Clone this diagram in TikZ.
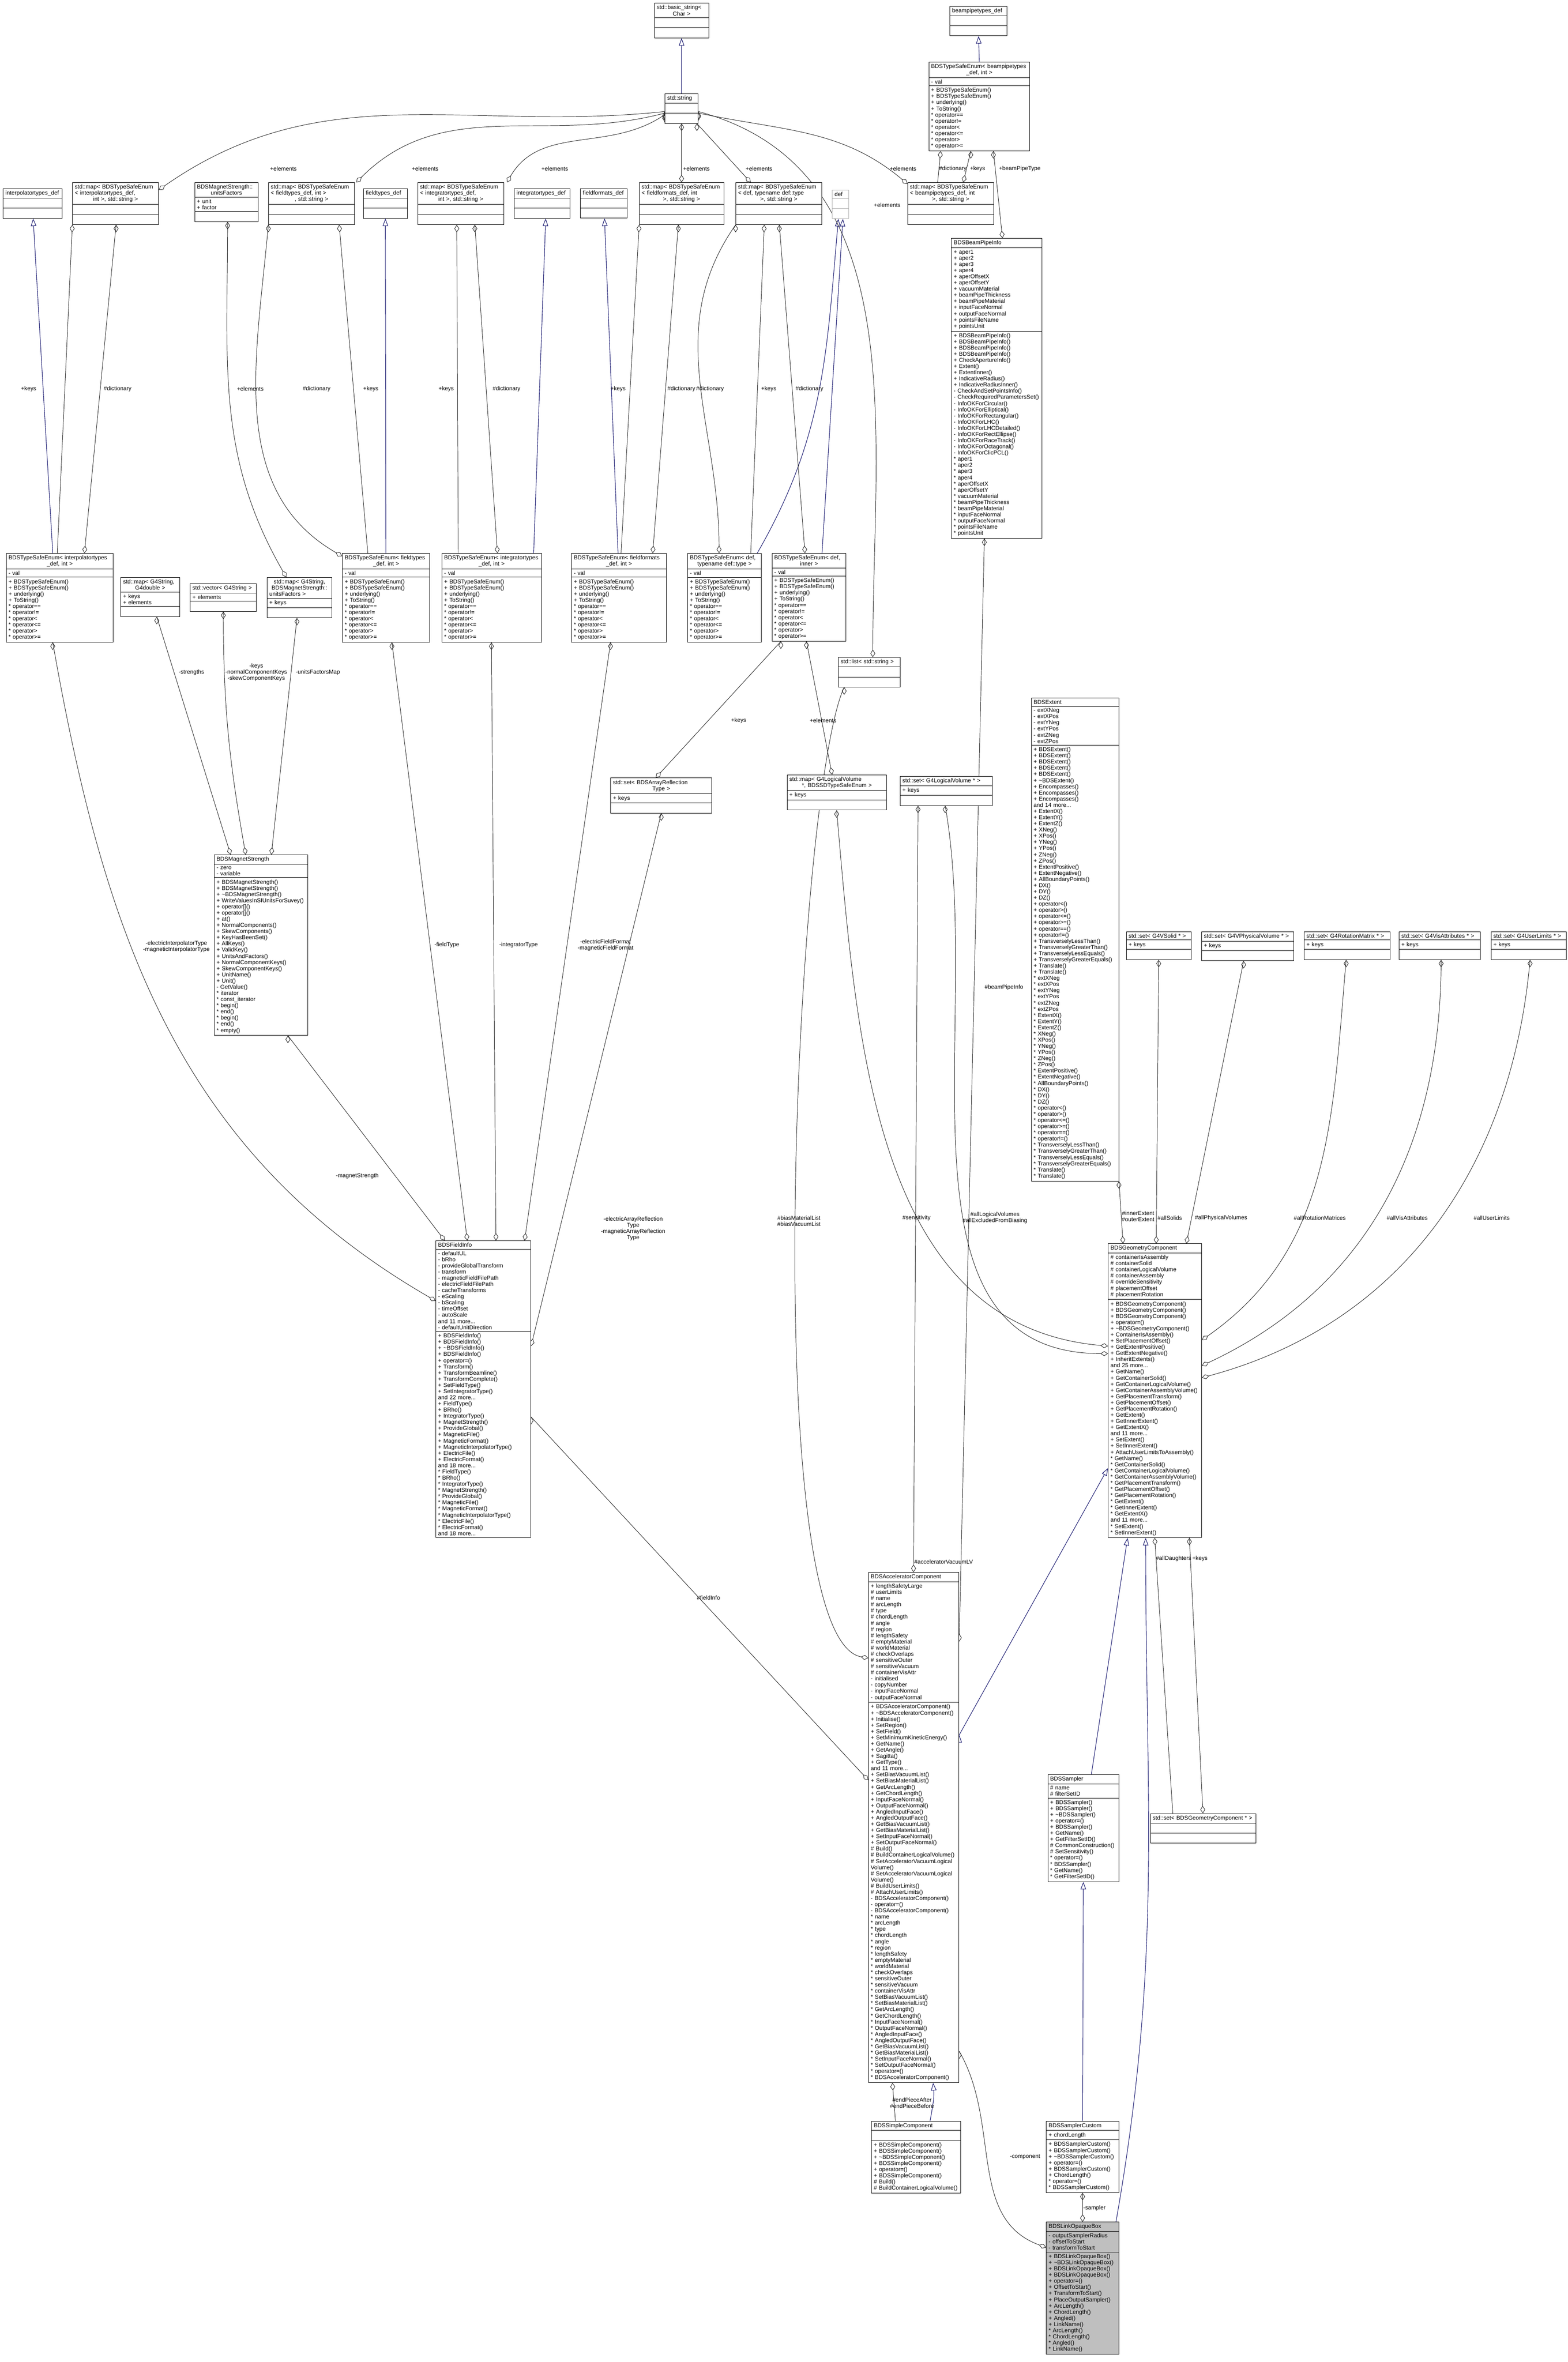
\documentclass[tikz,border=0pt]{standalone}
\usepackage{fontspec}
\newfontfamily\dxfont{Liberation Sans}
\usetikzlibrary{shapes.multipart,arrows.meta}
\definecolor{dxblue}{HTML}{191970}
\pgfdeclarelayer{background}
\pgfsetlayers{background,main}
\newcommand{\cfont}{\dxfont\fontsize{3.8}{4.1}\selectfont}
\newcommand{\emp}{\rule{0pt}{4pt}}
\newcommand{\cl}[1]{\hspace*{\fill}#1\hspace*{\fill}\null}
\newcommand{\tsemeth}{+ BDSTypeSafeEnum()\\+ BDSTypeSafeEnum()\\+ underlying()\\+ ToString()\\{}* operator==\\{}* operator!=\\{}* operator<\\{}* operator<=\\{}* operator>\\{}* operator>=}
\tikzstyle{cls}=[rectangle split, rectangle split parts=3, draw=black, line width=0.3pt,
fill=white, inner xsep=1.5pt, inner ysep=1.2pt, anchor=north west, font=\cfont, align=left]
\tikzstyle{agg}=[draw=black!85, line width=0.3pt, -{Diamond[open,length=5pt,width=3.2pt]}]
\tikzstyle{inh}=[draw=dxblue, line width=0.35pt, -{Triangle[open,length=5pt,width=3.6pt]}]
\tikzstyle{lab}=[font=\cfont, inner sep=0pt, align=center]

\begin{document}
\begin{tikzpicture}[x=1pt,y=-1pt]
            \useasboundingbox (0,0) rectangle (1040,1567);

            % STRING PART

            \node[cls,text width=33pt] (basicstr) at (434,2) {std::basic\_string<\\\cl{Char >}\nodepart{two}\emp\nodepart{three}\emp};
            \node[cls,text width=19pt] (stdstring) at (441,62) {\centering std::string\nodepart{two}\emp\nodepart{three}\emp};
            \node[cls,text width=38pt] (liststr) at (556,436) {\centering std::list< std::string >\nodepart{two}\emp\nodepart{three}\emp};

            % DEF PART

            \node[cls,text width=36pt] (interpdef) at (2,125) {\centering interpolatortypes\_def\nodepart{two}\emp\nodepart{three}\emp};
            \node[cls,text width=26pt] (ftdef) at (241,125) {\centering fieldtypes\_def\nodepart{two}\emp\nodepart{three}\emp};
            \node[cls,text width=34pt] (itdef) at (341,125) {\centering integratortypes\_def\nodepart{two}\emp\nodepart{three}\emp};
            \node[cls,text width=28pt] (ffdef) at (385,125) {\centering fieldformats\_def\nodepart{two}\emp\nodepart{three}\emp};
            \node[cls,text width=8pt,draw=black!30] (defbox) at (552,126) {\centering def\nodepart{two}\emp\nodepart{three}\emp};
            \node[cls,text width=35pt] (bptdef) at (630,4) {\centering beampipetypes\_def\nodepart{two}\emp\nodepart{three}\emp};

            % MAP PART

            \node[cls,text width=54pt] (mapinterp) at (48,121) {std::map< BDSTypeSafeEnum\\< interpolatortypes\_def,\\\cl{int >, std::string >}\nodepart{two}\emp\nodepart{three}\emp};
            \node[cls,text width=39pt] (unitsfac) at (129,121) {BDSMagnetStrength::\\\cl{unitsFactors}\nodepart{two}+ unit\\+ factor\nodepart{three}\emp};
            \node[cls,text width=54pt] (mapft) at (178,121) {std::map< BDSTypeSafeEnum\\< fieldtypes\_def, int >\\\cl{, std::string >}\nodepart{two}\emp\nodepart{three}\emp};
            \node[cls,text width=54pt] (mapit) at (277,121) {std::map< BDSTypeSafeEnum\\< integratortypes\_def,\\\cl{int >, std::string >}\nodepart{two}\emp\nodepart{three}\emp};
            \node[cls,text width=53pt] (mapff) at (424,121) {std::map< BDSTypeSafeEnum\\< fieldformats\_def, int\\\cl{>, std::string >}\nodepart{two}\emp\nodepart{three}\emp};
            \node[cls,text width=54pt] (mapdef) at (488,121) {std::map< BDSTypeSafeEnum\\< def, typename def::type\\\cl{>, std::string >}\nodepart{two}\emp\nodepart{three}\emp};
            \node[cls,text width=54pt] (mapbp) at (602,121) {std::map< BDSTypeSafeEnum\\< beampipetypes\_def, int\\\cl{>, std::string >}\nodepart{two}\emp\nodepart{three}\emp};

            % TYPESAFEENUM PART

            \node[cls,text width=64pt] (tsebp) at (616,41) {BDSTypeSafeEnum< beampipetypes\\\cl{\_def, int >}\nodepart{two}- val\nodepart{three}\tsemeth};
            \node[cls,text width=68pt] (tseinterp) at (4,367) {BDSTypeSafeEnum< interpolatortypes\\\cl{\_def, int >}\nodepart{two}- val\nodepart{three}\tsemeth};
            \node[cls,text width=55pt] (tseft) at (227,367) {BDSTypeSafeEnum< fieldtypes\\\cl{\_def, int >}\nodepart{two}- val\nodepart{three}\tsemeth};
            \node[cls,text width=63pt] (tseit) at (293,367) {BDSTypeSafeEnum< integratortypes\\\cl{\_def, int >}\nodepart{two}- val\nodepart{three}\tsemeth};
            \node[cls,text width=60pt] (tseff) at (379,367) {BDSTypeSafeEnum< fieldformats\\\cl{\_def, int >}\nodepart{two}- val\nodepart{three}\tsemeth};
            \node[cls,text width=46pt] (tsedeft) at (456,367) {BDSTypeSafeEnum< def,\\\cl{typename def::type >}\nodepart{two}- val\nodepart{three}\tsemeth};
            \node[cls,text width=46pt] (tsedefi) at (512,367) {BDSTypeSafeEnum< def,\\\cl{inner >}\nodepart{two}- val\nodepart{three}\tsemeth};

            % MAGNET STRENGTH PART

            \node[cls,text width=36pt] (mapgd) at (80,383) {std::map< G4String,\\\cl{G4double >}\nodepart{two}+ keys\\+ elements\nodepart{three}\emp};
            \node[cls,text width=41pt] (vecgs) at (126,387) {\centering std::vector< G4String >\nodepart{two}+ elements\nodepart{three}\emp};
            \node[cls,text width=40pt] (mapuf) at (177,383) {\centering std::map< G4String,\\BDSMagnetStrength::\\unitsFactors >\nodepart{two}+ keys\nodepart{three}\emp};
            \node[cls,text width=59pt] (ms) at (142,567) {\centering BDSMagnetStrength\nodepart{two}- zero\\- variable\nodepart{three}+ BDSMagnetStrength()\\+ BDSMagnetStrength()\\+ \textasciitilde BDSMagnetStrength()\\+ WriteValuesInSIUnitsForSuvey()\\+ operator[]()\\+ operator[]()\\+ at()\\+ NormalComponents()\\+ SkewComponents()\\+ KeyHasBeenSet()\\+ AllKeys()\\+ ValidKey()\\+ UnitsAndFactors()\\+ NormalComponentKeys()\\+ SkewComponentKeys()\\+ UnitName()\\+ Unit()\\- GetValue()\\{}* iterator\\{}* const\_iterator\\{}* begin()\\{}* end()\\{}* begin()\\{}* end()\\{}* empty()};

            % SET PART

            \node[cls,text width=64pt] (setarr) at (405,516) {std::set< BDSArrayReflection\\\cl{Type >}\nodepart{two}+ keys\nodepart{three}\emp};
            \node[cls,text width=63pt] (maplvsd) at (522,514) {std::map< G4LogicalVolume\\\cl{*, BDSSDTypeSafeEnum >}\nodepart{two}+ keys\nodepart{three}\emp};
            \node[cls,text width=58pt] (setlv) at (597,515) {\centering std::set< G4LogicalVolume * >\nodepart{two}+ keys\nodepart{three}\emp};
            \node[cls,text width=40pt] (setsolid) at (747,618) {\centering std::set< G4VSolid * >\nodepart{two}+ keys\nodepart{three}\emp};
            \node[cls,text width=58pt] (setpv) at (797,618) {\centering std::set< G4VPhysicalVolume * >\nodepart{two}+ keys\nodepart{three}\emp};
            \node[cls,text width=54pt] (setrot) at (865,618) {\centering std::set< G4RotationMatrix * >\nodepart{two}+ keys\nodepart{three}\emp};
            \node[cls,text width=51pt] (setvis) at (928,618) {\centering std::set< G4VisAttributes * >\nodepart{two}+ keys\nodepart{three}\emp};
            \node[cls,text width=47pt] (setul) at (989,618) {\centering std::set< G4UserLimits * >\nodepart{two}+ keys\nodepart{three}\emp};
            \node[cls,text width=67pt] (setgeom) at (763,1203) {\centering std::set< BDSGeometryComponent * >\nodepart{two}\emp\nodepart{three}\emp};

            % BEAMPIPE AND EXTENT PART

            \node[cls,text width=57pt] (bpinfo) at (631,158) {\centering BDSBeamPipeInfo\nodepart{two}+ aper1\\+ aper2\\+ aper3\\+ aper4\\+ aperOffsetX\\+ aperOffsetY\\+ vacuumMaterial\\+ beamPipeThickness\\+ beamPipeMaterial\\+ inputFaceNormal\\+ outputFaceNormal\\+ pointsFileName\\+ pointsUnit\nodepart{three}+ BDSBeamPipeInfo()\\+ BDSBeamPipeInfo()\\+ BDSBeamPipeInfo()\\+ BDSBeamPipeInfo()\\+ CheckApertureInfo()\\+ Extent()\\+ ExtentInner()\\+ IndicativeRadius()\\+ IndicativeRadiusInner()\\- CheckAndSetPointsInfo()\\- CheckRequiredParametersSet()\\- InfoOKForCircular()\\- InfoOKForElliptical()\\- InfoOKForRectangular()\\- InfoOKForLHC()\\- InfoOKForLHCDetailed()\\- InfoOKForRectEllipse()\\- InfoOKForRaceTrack()\\- InfoOKForOctagonal()\\- InfoOKForClicPCL()\\{}* aper1\\{}* aper2\\{}* aper3\\{}* aper4\\{}* aperOffsetX\\{}* aperOffsetY\\{}* vacuumMaterial\\{}* beamPipeThickness\\{}* beamPipeMaterial\\{}* inputFaceNormal\\{}* outputFaceNormal\\{}* pointsFileName\\{}* pointsUnit};
            \node[cls,text width=55pt] (extent) at (684,463) {\centering BDSExtent\nodepart{two}- extXNeg\\- extXPos\\- extYNeg\\- extYPos\\- extZNeg\\- extZPos\nodepart{three}+ BDSExtent()\\+ BDSExtent()\\+ BDSExtent()\\+ BDSExtent()\\+ BDSExtent()\\+ \textasciitilde BDSExtent()\\+ Encompasses()\\+ Encompasses()\\+ Encompasses()\\and 14 more...\\+ ExtentX()\\+ ExtentY()\\+ ExtentZ()\\+ XNeg()\\+ XPos()\\+ YNeg()\\+ YPos()\\+ ZNeg()\\+ ZPos()\\+ ExtentPositive()\\+ ExtentNegative()\\+ AllBoundaryPoints()\\+ DX()\\+ DY()\\+ DZ()\\+ operator<()\\+ operator>()\\+ operator<=()\\+ operator>=()\\+ operator==()\\+ operator!=()\\+ TransverselyLessThan()\\+ TransverselyGreaterThan()\\+ TransverselyLessEquals()\\+ TransverselyGreaterEquals()\\+ Translate()\\+ Translate()\\{}* extXNeg\\{}* extXPos\\{}* extYNeg\\{}* extYPos\\{}* extZNeg\\{}* extZPos\\{}* ExtentX()\\{}* ExtentY()\\{}* ExtentZ()\\{}* XNeg()\\{}* XPos()\\{}* YNeg()\\{}* YPos()\\{}* ZNeg()\\{}* ZPos()\\{}* ExtentPositive()\\{}* ExtentNegative()\\{}* AllBoundaryPoints()\\{}* DX()\\{}* DY()\\{}* DZ()\\{}* operator<()\\{}* operator>()\\{}* operator<=()\\{}* operator>=()\\{}* operator==()\\{}* operator!=()\\{}* TransverselyLessThan()\\{}* TransverselyGreaterThan()\\{}* TransverselyLessEquals()\\{}* TransverselyGreaterEquals()\\{}* Translate()\\{}* Translate()};

            % FIELD INFO PART

            \node[cls,text width=60pt] (fieldinfo) at (289,823) {\centering BDSFieldInfo\nodepart{two}- defaultUL\\- bRho\\- provideGlobalTransform\\- transform\\- magneticFieldFilePath\\- electricFieldFilePath\\- cacheTransforms\\- eScaling\\- bScaling\\- timeOffset\\- autoScale\\and 11 more...\\- defaultUnitDirection\nodepart{three}+ BDSFieldInfo()\\+ BDSFieldInfo()\\+ \textasciitilde BDSFieldInfo()\\+ BDSFieldInfo()\\+ operator=()\\+ Transform()\\+ TransformBeamline()\\+ TransformComplete()\\+ SetFieldType()\\+ SetIntegratorType()\\and 22 more...\\+ FieldType()\\+ BRho()\\+ IntegratorType()\\+ MagnetStrength()\\+ ProvideGlobal()\\+ MagneticFile()\\+ MagneticFormat()\\+ MagneticInterpolatorType()\\+ ElectricFile()\\+ ElectricFormat()\\and 18 more...\\{}* FieldType()\\{}* BRho()\\{}* IntegratorType()\\{}* MagnetStrength()\\{}* ProvideGlobal()\\{}* MagneticFile()\\{}* MagneticFormat()\\{}* MagneticInterpolatorType()\\{}* ElectricFile()\\{}* ElectricFormat()\\and 18 more...};

            % GEOMETRY PART

            \node[cls,text width=59pt] (geom) at (735,825) {\centering BDSGeometryComponent\nodepart{two}\# containerIsAssembly\\\# containerSolid\\\# containerLogicalVolume\\\# containerAssembly\\\# overrideSensitivity\\\# placementOffset\\\# placementRotation\nodepart{three}+ BDSGeometryComponent()\\+ BDSGeometryComponent()\\+ BDSGeometryComponent()\\+ operator=()\\+ \textasciitilde BDSGeometryComponent()\\+ ContainerIsAssembly()\\+ SetPlacementOffset()\\+ GetExtentPositive()\\+ GetExtentNegative()\\+ InheritExtents()\\and 25 more...\\+ GetName()\\+ GetContainerSolid()\\+ GetContainerLogicalVolume()\\+ GetContainerAssemblyVolume()\\+ GetPlacementTransform()\\+ GetPlacementOffset()\\+ GetPlacementRotation()\\+ GetExtent()\\+ GetInnerExtent()\\+ GetExtentX()\\and 11 more...\\+ SetExtent()\\+ SetInnerExtent()\\+ AttachUserLimitsToAssembly()\\{}* GetName()\\{}* GetContainerSolid()\\{}* GetContainerLogicalVolume()\\{}* GetContainerAssemblyVolume()\\{}* GetPlacementTransform()\\{}* GetPlacementOffset()\\{}* GetPlacementRotation()\\{}* GetExtent()\\{}* GetInnerExtent()\\{}* GetExtentX()\\and 11 more...\\{}* SetExtent()\\{}* SetInnerExtent()};

            % ACCELERATOR COMPONENT PART

            \node[cls,text width=57pt] (accel) at (576,1043) {\centering BDSAcceleratorComponent\nodepart{two}+ lengthSafetyLarge\\\# userLimits\\\# name\\\# arcLength\\\# type\\\# chordLength\\\# angle\\\# region\\\# lengthSafety\\\# emptyMaterial\\\# worldMaterial\\\# checkOverlaps\\\# sensitiveOuter\\\# sensitiveVacuum\\\# containerVisAttr\\- initialised\\- copyNumber\\- inputFaceNormal\\- outputFaceNormal\nodepart{three}+ BDSAcceleratorComponent()\\+ \textasciitilde BDSAcceleratorComponent()\\+ Initialise()\\+ SetRegion()\\+ SetField()\\+ SetMinimumKineticEnergy()\\+ GetName()\\+ GetAngle()\\+ Sagitta()\\+ GetType()\\and 11 more...\\+ SetBiasVacuumList()\\+ SetBiasMaterialList()\\+ GetArcLength()\\+ GetChordLength()\\+ InputFaceNormal()\\+ OutputFaceNormal()\\+ AngledInputFace()\\+ AngledOutputFace()\\+ GetBiasVacuumList()\\+ GetBiasMaterialList()\\+ SetInputFaceNormal()\\+ SetOutputFaceNormal()\\\# Build()\\\# BuildContainerLogicalVolume()\\\# SetAcceleratorVacuumLogical\\Volume()\\\# SetAcceleratorVacuumLogical\\Volume()\\\# BuildUserLimits()\\\# AttachUserLimits()\\- BDSAcceleratorComponent()\\- operator=()\\- BDSAcceleratorComponent()\\{}* name\\{}* arcLength\\{}* type\\{}* chordLength\\{}* angle\\{}* region\\{}* lengthSafety\\{}* emptyMaterial\\{}* worldMaterial\\{}* checkOverlaps\\{}* sensitiveOuter\\{}* sensitiveVacuum\\{}* containerVisAttr\\{}* SetBiasVacuumList()\\{}* SetBiasMaterialList()\\{}* GetArcLength()\\{}* GetChordLength()\\{}* InputFaceNormal()\\{}* OutputFaceNormal()\\{}* AngledInputFace()\\{}* AngledOutputFace()\\{}* GetBiasVacuumList()\\{}* GetBiasMaterialList()\\{}* SetInputFaceNormal()\\{}* SetOutputFaceNormal()\\{}* operator=()\\{}* BDSAcceleratorComponent()};
            \node[cls,text width=56pt] (simple) at (578,1407) {\centering BDSSimpleComponent\nodepart{two}\emp\nodepart{three}+ BDSSimpleComponent()\\+ BDSSimpleComponent()\\+ \textasciitilde BDSSimpleComponent()\\+ BDSSimpleComponent()\\+ operator=()\\+ BDSSimpleComponent()\\\# Build()\\\# BuildContainerLogicalVolume()};

            % SAMPLER PART

            \node[cls,text width=44pt] (sampler) at (695,1177) {\centering BDSSampler\nodepart{two}\# name\\\# filterSetID\nodepart{three}+ BDSSampler()\\+ BDSSampler()\\+ \textasciitilde BDSSampler()\\+ operator=()\\+ BDSSampler()\\+ GetName()\\+ GetFilterSetID()\\\# CommonConstruction()\\\# SetSensitivity()\\{}* operator=()\\{}* BDSSampler()\\{}* GetName()\\{}* GetFilterSetID()};
            \node[cls,text width=45pt] (sampc) at (694,1407) {\centering BDSSamplerCustom\nodepart{two}+ chordLength\nodepart{three}+ BDSSamplerCustom()\\+ BDSSamplerCustom()\\+ \textasciitilde BDSSamplerCustom()\\+ operator=()\\+ BDSSamplerCustom()\\+ ChordLength()\\{}* operator=()\\{}* BDSSamplerCustom()};
            \node[cls,text width=45pt,fill=black!25] (linkbox) at (694,1474) {\centering BDSLinkOpaqueBox\nodepart{two}- outputSamplerRadius\\- offsetToStart\\- transformToStart\nodepart{three}+ BDSLinkOpaqueBox()\\+ \textasciitilde BDSLinkOpaqueBox()\\+ BDSLinkOpaqueBox()\\+ BDSLinkOpaqueBox()\\+ operator=()\\+ OffsetToStart()\\+ TransformToStart()\\+ PlaceOutputSampler()\\+ ArcLength()\\+ ChordLength()\\+ Angled()\\+ LinkName()\\{}* ArcLength()\\{}* ChordLength()\\{}* Angled()\\{}* LinkName()};

            \begin{pgfonlayer}{background}
            % Inheritance

            \path[inh] (stdstring.north) edge (basicstr.south);
            \path[inh] (tsebp.north) edge (bptdef.south);
            \path[inh] ([xshift=31pt]tseinterp.north west) edge ([xshift=20pt]interpdef.south west);
            \path[inh] ([xshift=29pt]tseft.north west) edge (ftdef.south);
            \path[inh] ([xshift=61pt]tseit.north west) edge ([xshift=21pt]itdef.south west);
            \path[inh] ([xshift=31pt]tseff.north west) edge ([xshift=16pt]ffdef.south west);
            \path[inh] ([xshift=-3pt]tsedeft.north east) edge[out=60,in=-95] ([xshift=-1.5pt]defbox.south);
            \path[inh] ([xshift=-16pt]tsedefi.north east) edge ([xshift=1.5pt]defbox.south);
            \path[inh] ([yshift=-108pt]accel.north east) edge ([yshift=-149pt]geom.north west);
            \path[inh] ([xshift=29pt]sampler.north west) edge ([xshift=13pt]geom.south west);
            \path[inh] ([xshift=-2pt]linkbox.north east) edge[out=80,in=-90] ([xshift=25pt]geom.south west);
            \path[inh] (sampc.north) edge (sampler.south);
            \path[inh] ([xshift=39pt]simple.north west) edge[out=80,in=-85] ([xshift=43pt]accel.south west);

            % Members of std::string

            \path[agg] ([yshift=-12pt]stdstring.north west) edge[out=186,in=35] ([yshift=-5pt]mapinterp.north east);
            \path[agg] ([yshift=-13pt]stdstring.north west) edge[out=195,in=45] ([xshift=1pt]mapft.north east);
            \path[agg] ([yshift=-14pt]stdstring.north west) edge[out=215,in=60] ([xshift=2pt]mapit.north east);
            \path[agg] (stdstring.south) edge (mapff.north);
            \path[agg] ([xshift=-1pt]stdstring.south east) edge ([xshift=10pt]mapdef.north west);
            \path[agg] ([yshift=-13pt]stdstring.north east) edge[out=-12,in=140] ([yshift=-1pt]mapbp.north west);
            \path[agg] ([yshift=-12pt]stdstring.north east) edge[out=-15,in=90] ([xshift=23pt]liststr.north west);

            % Beam pipe types

            \path[agg] ([xshift=28pt]tsebp.south west) edge ([xshift=37pt]mapbp.north west);
            \path[agg] ([xshift=20pt]mapbp.north west) edge ([xshift=8pt]tsebp.south west);
            \path[agg] ([xshift=43pt]tsebp.south west) edge ([xshift=34pt]bpinfo.north west);

            % Keys and dictionaries

            \path[agg] ([xshift=34pt]tseinterp.north west) edge (mapinterp.south west);
            \path[agg] ([xshift=29pt]mapinterp.south west) edge ([xshift=52pt]tseinterp.north west);
            \path[agg] ([xshift=22pt]unitsfac.south west) edge[out=-90,in=120] ([xshift=13pt]mapuf.north west);
            \path[agg] (mapft.south west) edge[out=-95,in=150] ([yshift=-2pt]tseft.north west);
            \path[agg] ([xshift=17pt]tseft.north west) edge ([xshift=47pt]mapft.south west);
            \path[agg] ([xshift=11pt]tseit.north west) edge ([xshift=26pt]mapit.south west);
            \path[agg] ([xshift=38pt]mapit.south west) edge ([xshift=37pt]tseit.north west);
            \path[agg] ([xshift=33pt]tseff.north west) edge (mapff.south west);
            \path[agg] ([xshift=26pt]mapff.south west) edge ([xshift=54pt]tseff.north west);
            \path[agg] (mapdef.south west) edge[out=-125,in=90] ([xshift=21pt]tsedeft.north west);
            \path[agg] ([xshift=42pt]tsedeft.north west) edge ([xshift=19pt]mapdef.south west);
            \path[agg] ([xshift=29pt]mapdef.south west) edge ([xshift=22pt]tsedefi.north west);

            % Magnet strength

            \path[agg] ([xshift=24pt]mapgd.south west) edge ([xshift=11pt]ms.north west);
            \path[agg] (vecgs.south) edge[out=-90,in=100] ([xshift=21pt]ms.north west);
            \path[agg] ([xshift=20pt]mapuf.south west) edge ([xshift=38pt]ms.north west);

            % Field info

            \path[agg] ([xshift=31pt]tseinterp.south west) edge[out=-80,in=150] ([yshift=-40pt]fieldinfo.north west);
            \path[agg] ([xshift=49pt]ms.south west) edge ([xshift=6pt]fieldinfo.north west);
            \path[agg] ([xshift=33pt]tseft.south west) edge ([xshift=21pt]fieldinfo.north west);
            \path[agg] ([xshift=33pt]tseit.south west) edge ([xshift=40pt]fieldinfo.north west);
            \path[agg] ([xshift=26pt]tseff.south west) edge ([xshift=59pt]fieldinfo.north west);
            \path[agg] (setarr.south) edge ([yshift=-70pt]fieldinfo.north east);

            % Sets and accelerator component

            \path[agg] ([xshift=6pt]tsedefi.south west) edge ([xshift=30pt]setarr.north west);
            \path[agg] ([xshift=23pt]tsedefi.south west) edge ([xshift=30pt]maplvsd.north west);
            \path[agg] ([xshift=4pt]liststr.south west) edge[out=-115,in=170,looseness=0.3] ([yshift=-57pt]accel.north west);
            \path[agg] ([yshift=-117pt]fieldinfo.north east) edge ([yshift=-138pt]accel.north west);
            \path[agg] ([xshift=12pt]setlv.south west) edge ([xshift=30pt]accel.north west);
            \path[agg] ([xshift=30pt]setlv.south west) edge[out=-80,in=180] ([yshift=-73pt]geom.north west);
            \path[agg] ([xshift=33pt]maplvsd.south west) edge[out=-85,in=175] ([yshift=-68pt]geom.north west);
            \path[agg] ([xshift=22pt]bpinfo.south west) edge ([yshift=-46pt]accel.north east);

            % Geometry component members

            \path[agg] (extent.south east) edge ([xshift=10pt]geom.north west);
            \path[agg] (setsolid.south) edge ([xshift=32pt]geom.north west);
            \path[agg] ([xshift=28pt]setpv.south west) edge ([xshift=52pt]geom.north west);
            \path[agg] ([xshift=28pt]setrot.south west) edge[out=-95,in=35] ([yshift=-64pt]geom.north east);
            \path[agg] ([xshift=28pt]setvis.south west) edge[out=-90,in=25] ([yshift=-81pt]geom.north east);
            \path[agg] ([xshift=26pt]setul.south west) edge[out=-95,in=15] ([yshift=-89pt]geom.north east);
            \path[agg] ([xshift=54pt]geom.south west) edge ([xshift=35pt]setgeom.north west);
            \path[agg] ([xshift=15pt]setgeom.north west) edge ([xshift=31pt]geom.south west);

            % Link opaque box

            \path[agg] ([xshift=16pt]simple.north west) edge ([xshift=16pt]accel.south west);
            \path[agg] ([yshift=21pt]accel.south east) edge[out=-60,in=160] ([yshift=-17pt]linkbox.north west);
            \path[agg] (sampc.south) edge (linkbox.north);
            \end{pgfonlayer}

            % Labels

            \node[lab] (l1) at (188,112) {+elements};
            \node[lab] (l2) at (282,112) {+elements};
            \node[lab] (l3) at (368,112) {+elements};
            \node[lab] (l4) at (462,112) {+elements};
            \node[lab] (l5) at (503.5,112) {+elements};
            \node[lab] (l6) at (599,112) {+elements};
            \node[lab] (l7) at (588.5,136) {+elements};
            \node[lab] (l8) at (632,112) {\#dictionary};
            \node[lab] (l9) at (648.5,112) {+keys};
            \node[lab] (l10) at (676.5,112) {+beamPipeType};

            \node[lab] (l11) at (19,258) {+keys};
            \node[lab] (l12) at (78,258) {\#dictionary};
            \node[lab] (l13) at (166,258) {+elements};
            \node[lab] (l14) at (210,258) {\#dictionary};
            \node[lab] (l15) at (246,258) {+keys};
            \node[lab] (l16) at (296,258) {+keys};
            \node[lab] (l17) at (336,258) {\#dictionary};
            \node[lab] (l18) at (410,258) {+keys};
            \node[lab] (l19) at (452,258) {\#dictionary};
            \node[lab] (l20) at (471,258) {\#dictionary};
            \node[lab] (l21) at (510,258) {+keys};
            \node[lab] (l22) at (537,258) {\#dictionary};

            \node[lab] (l23) at (127,446) {-strengths};
            \node[lab] (l24) at (170,446) {-keys\\-normalComponentKeys\\-skewComponentKeys};
            \node[lab,anchor=west] (l25) at (196,446) {-unitsFactorsMap};

            \node[lab] (l26) at (117,628) {-electricInterpolatorType\\-magneticInterpolatorType};
            \node[lab] (l27) at (237,780) {-magnetStrength};
            \node[lab,anchor=west] (l28) at (288,627) {-fieldType};
            \node[lab,anchor=west] (l29) at (331,627) {-integratorType};
            \node[lab,anchor=west] (l30) at (383,627) {-electricFieldFormat\\-magneticFieldFormat};
            \node[lab] (l31) at (420,815) {-electricArrayReflection\\Type\\-magneticArrayReflection\\Type};

            \node[lab] (l32) at (490,478) {+keys};
            \node[lab] (l33) at (546,478) {+elements};
            \node[lab] (l34) at (530,810) {\#biasMaterialList\\\#biasVacuumList};
            \node[lab] (l35) at (470,1060) {\#fieldInfo};
            \node[lab] (l36) at (626,1036) {\#acceleratorVacuumLV};
            \node[lab] (l37) at (608,808) {\#sensitivity};
            \node[lab] (l38) at (660,808) {\#allLogicalVolumes\\\#allExcludedFromBiasing};
            \node[lab] (l39) at (666,655) {\#beamPipeInfo};

            \node[lab] (l40) at (755,807) {\#innerExtent\\\#outerExtent};
            \node[lab] (l41) at (776,808) {\#allSolids};
            \node[lab] (l42) at (810,808) {\#allPhysicalVolumes};
            \node[lab] (l43) at (875.5,808) {\#allRotationMatrices};
            \node[lab] (l44) at (933.5,808) {\#allVisAttributes};
            \node[lab] (l45) at (989.5,808) {\#allUserLimits};
            \node[lab] (l46) at (796,1034) {+keys};
            \node[lab] (l47) at (778.5,1034) {\#allDaughters};

            \node[lab] (l48) at (605,1395) {\#endPieceAfter\\\#endPieceBefore};
            \node[lab] (l49) at (680,1431) {-component};
            \node[lab] (l50) at (726,1465) {-sampler};

\end{tikzpicture}
\end{document}
